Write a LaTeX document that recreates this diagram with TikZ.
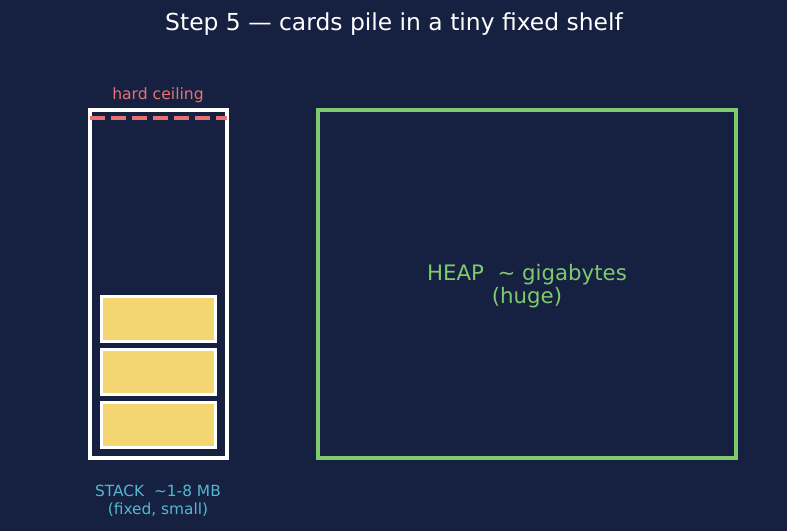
\documentclass[tikz,border=0pt]{standalone}
\usepackage{fontspec}
\setmainfont{DejaVu Sans}
\definecolor{bg}{HTML}{162040}
\definecolor{ceil}{HTML}{E87272}
\definecolor{card}{HTML}{F3D671}
\definecolor{heapc}{HTML}{7DCB6E}
\definecolor{stackc}{HTML}{52B8D2}
\tikzset{
  shelf/.style={draw=white, line width=4pt},
  cardbox/.style={draw=white, line width=3pt, fill=card},
  heapbox/.style={draw=heapc, line width=4pt},
  lbl/.style={inner sep=0pt, align=center},
}
\begin{document}
\begin{tikzpicture}[x=1pt,y=-1pt]
\fill[bg] (0,0) rectangle (787,531);
\useasboundingbox (0,0) rectangle (787,531);
\node[lbl, text=white, font=\fontsize{23.4}{28}\selectfont] (title) at (394,24) {Step 5 — cards pile in a tiny fixed shelf};
\node[shelf, minimum width=137pt, minimum height=348pt, inner sep=0pt] (stack) at (158.5,284) {};
\node[cardbox, minimum width=114pt, minimum height=45pt, inner sep=0pt] (c1) at (158,424.5) {};
\node[cardbox, minimum width=114pt, minimum height=45pt, inner sep=0pt] (c2) at (158,371.5) {};
\node[cardbox, minimum width=114pt, minimum height=45pt, inner sep=0pt] (c3) at (158,318.5) {};
\coordinate (cl) at (90,118);
\coordinate (cr) at (227,118);
\draw[ceil, line width=4pt, dash pattern=on 15pt off 6pt] (cl) -- (cr);
\node[lbl, text=ceil, font=\fontsize{15.6}{18}\selectfont] (hc) at (158,95.5) {hard ceiling};
\node[lbl, text=stackc, font=\fontsize{15.4}{18}\selectfont] (sl) at (158,501) {STACK~~\textasciitilde1-8 MB\\(fixed, small)};
\node[heapbox, minimum width=418pt, minimum height=348pt, inner sep=0pt] (heap) at (527,284) {};
\node[lbl, text=heapc, font=\fontsize{21.3}{23}\selectfont] (hl) at (527,286) {HEAP~~\textasciitilde{} gigabytes\\(huge)};
\end{tikzpicture}
\end{document}
